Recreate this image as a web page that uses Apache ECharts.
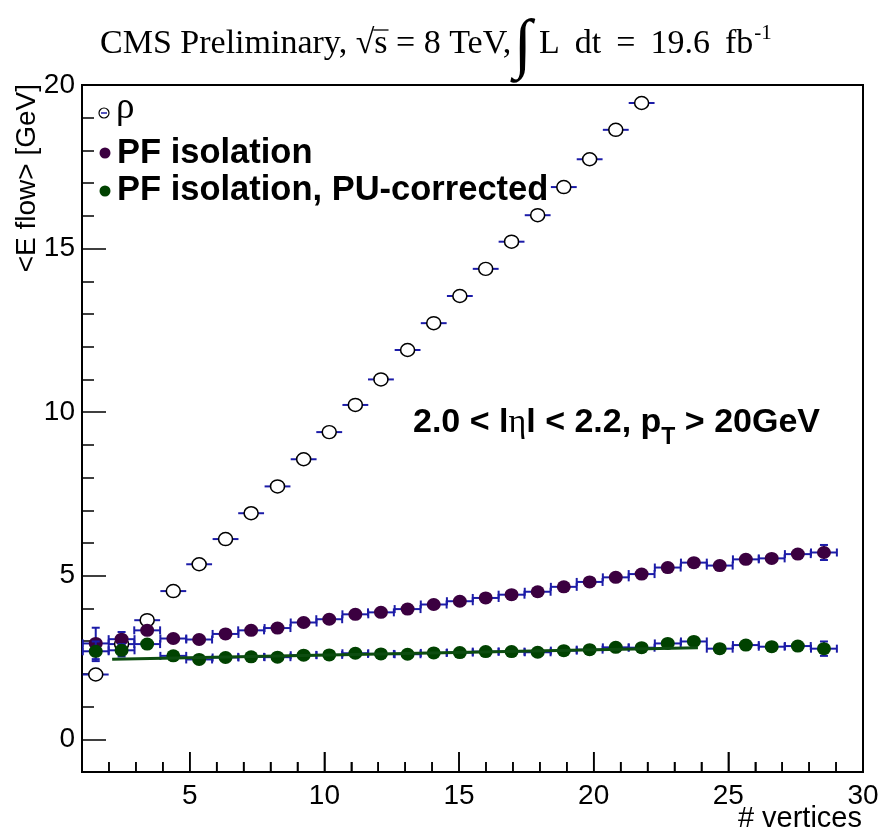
<!DOCTYPE html>
<html>
<head>
<meta charset="utf-8">
<script src="https://cdn.jsdelivr.net/npm/echarts@6/dist/echarts.min.js"></script>
<style>html,body{margin:0;padding:0;background:#fff}#c{width:882px;height:833px}</style>
</head>
<body>
<div id="c"></div>
<script>
// ---- data ----
const vertices = [1.51, 2.47, 3.42, 4.39, 5.35, 6.33, 7.28, 8.26, 9.23, 10.18, 11.15, 12.10, 13.09, 14.06, 15.03, 15.99, 16.95, 17.92, 18.89, 19.85, 20.82, 21.78, 22.75, 23.72, 24.68, 25.65, 26.61, 27.58, 28.55];
const rho = [1.98, 2.91, 3.64, 4.53, 5.35, 6.12, 6.91, 7.73, 8.56, 9.39, 10.22, 11.00, 11.90, 12.72, 13.55, 14.38, 15.21, 16.02, 16.88, 17.73, 18.63, 19.45];
const pfIso = [2.93, 3.06, 3.33, 3.08, 3.05, 3.22, 3.33, 3.40, 3.57, 3.67, 3.82, 3.88, 3.98, 4.12, 4.22, 4.32, 4.42, 4.51, 4.66, 4.81, 4.95, 5.05, 5.25, 5.40, 5.31, 5.50, 5.53, 5.66, 5.71];
const pfIsoErr = [0.48, 0.22, 0.10, 0.06, 0.05, 0.04, 0.04, 0.04, 0.04, 0.04, 0.04, 0.04, 0.04, 0.04, 0.04, 0.04, 0.04, 0.04, 0.04, 0.04, 0.05, 0.05, 0.05, 0.06, 0.06, 0.07, 0.08, 0.10, 0.23];
const pfIsoPU = [2.69, 2.72, 2.91, 2.55, 2.44, 2.50, 2.52, 2.51, 2.57, 2.58, 2.63, 2.61, 2.60, 2.64, 2.65, 2.68, 2.68, 2.66, 2.71, 2.74, 2.81, 2.80, 2.93, 2.99, 2.77, 2.88, 2.83, 2.85, 2.77];
const pfIsoPUErr = [0.30, 0.19, 0.10, 0.06, 0.05, 0.04, 0.04, 0.04, 0.04, 0.04, 0.04, 0.04, 0.04, 0.04, 0.04, 0.04, 0.04, 0.04, 0.04, 0.04, 0.05, 0.05, 0.05, 0.06, 0.06, 0.07, 0.08, 0.10, 0.22];
const binHalfWidth = 0.48;
const fitX = [2.12, 23.87];
const fitY = [2.45, 2.80];
const xMajorTicks = [5, 10, 15, 20, 25, 30];
const yMajorTicks = [0, 5, 10, 15, 20];
const X_MIN = 1, X_MAX = 30, Y_MIN = -1, Y_MAX = 20;

// ---- styling ----
const colPF = '#3b0040';
const colPU = '#004200';
const colErr = '#1c1ca8';
const colFit = '#0d4d10';
const SANS = '"Liberation Sans", Arial, sans-serif';
const SERIF = '"Liberation Serif", "Times New Roman", serif';

const mctx = document.createElement('canvas').getContext('2d');
function tw(text, font) { mctx.font = font; return mctx.measureText(text).width; }

function zip(xs, ys, es) { return ys.map((y, i) => es ? [xs[i], y, es[i]] : [xs[i], y, 0]); }

function errRenderer(caps) {
  return function (params, api) {
    const x = api.value(0), y = api.value(1), e = api.value(2);
    const l = api.coord([x - binHalfWidth, y]);
    const r = api.coord([x + binHalfWidth, y]);
    const st = { stroke: colErr, lineWidth: 2 };
    const ch = [{ type: 'line', shape: { x1: l[0], y1: l[1], x2: r[0], y2: r[1] }, style: st }];
    if (caps) {
      ch.push({ type: 'line', shape: { x1: l[0], y1: l[1] - 4, x2: l[0], y2: l[1] + 4 }, style: st });
      ch.push({ type: 'line', shape: { x1: r[0], y1: r[1] - 4, x2: r[0], y2: r[1] + 4 }, style: st });
    }
    if (e > 0) {
      const t = api.coord([x, y + e]), b = api.coord([x, y - e]);
      ch.push({ type: 'line', shape: { x1: t[0], y1: t[1], x2: b[0], y2: b[1] }, style: st });
      if (caps) {
        ch.push({ type: 'line', shape: { x1: t[0] - 4, y1: t[1], x2: t[0] + 4, y2: t[1] }, style: st });
        ch.push({ type: 'line', shape: { x1: b[0] - 4, y1: b[1], x2: b[0] + 4, y2: b[1] }, style: st });
      }
    }
    return { type: 'group', children: ch };
  };
}

// sequential text pieces
function pieces(x, y, list) {
  const out = [];
  let cx = x;
  list.forEach(p => {
    out.push({ type: 'text', x: cx, y: y + (p.dy || 0), z: 100,
      style: { text: p.t, font: p.font, fill: p.fill || '#000', align: 'left', verticalAlign: 'middle' } });
    cx += tw(p.t, p.font) + (p.gap || 0);
  });
  return { els: out, end: cx };
}

const graphics = [];
// Title
const fT = '34px ' + SERIF;
let t1 = pieces(100, 44, [{ t: 'CMS Preliminary, ', font: fT }, { t: '\u221A', font: fT }]);
graphics.push(...t1.els);
const sx0 = t1.end;
let t2 = pieces(sx0, 44, [{ t: 's', font: fT }]);
graphics.push(...t2.els);
graphics.push({ type: 'line', z: 100, shape: { x1: sx0 - 1, y1: 30, x2: t2.end + 1, y2: 30 }, style: { stroke: '#000', lineWidth: 1.3 } });
let t3 = pieces(t2.end, 44, [{ t: ' = 8 TeV,', font: fT }]);
graphics.push(...t3.els);
graphics.push({ type: 'text', x: 523, y: 48, z: 100, style: { text: '\u222B', font: 'bold 66px ' + SERIF, fill: '#000', align: 'center', verticalAlign: 'middle' } });
let t4 = pieces(539, 44, [
  { t: 'L', font: fT, gap: 15 },
  { t: 'dt', font: fT, gap: 15 },
  { t: '=', font: fT, gap: 15 },
  { t: '19.6', font: fT, gap: 15 },
  { t: 'fb', font: fT }
]);
graphics.push(...t4.els);
graphics.push({ type: 'text', x: t4.end + 1, y: 33, z: 100, style: { text: '-1', font: '21px ' + SERIF, fill: '#000', align: 'left', verticalAlign: 'middle' } });

// Legend
graphics.push({ type: 'circle', z: 100, shape: { cx: 104, cy: 113, r: 5 }, style: { fill: '#fff', stroke: '#000', lineWidth: 1.2 } });
graphics.push({ type: 'line', z: 101, shape: { x1: 101, y1: 113, x2: 107, y2: 113 }, style: { stroke: colErr, lineWidth: 1.5 } });
graphics.push({ type: 'text', x: 116, y: 108, z: 100, style: { text: '\u03C1', font: '37px ' + SERIF, fill: '#000', align: 'left', verticalAlign: 'middle' } });
graphics.push({ type: 'circle', z: 100, shape: { cx: 105, cy: 153, r: 5.5 }, style: { fill: colPF } });
graphics.push({ type: 'text', x: 117, y: 153, z: 100, style: { text: 'PF isolation', font: 'bold 34.5px ' + SANS, fill: '#000', align: 'left', verticalAlign: 'middle' } });
graphics.push({ type: 'circle', z: 100, shape: { cx: 105, cy: 191, r: 5.5 }, style: { fill: colPU } });
graphics.push({ type: 'text', x: 117, y: 190, z: 100, style: { text: 'PF isolation, PU-corrected', font: 'bold 34.5px ' + SANS, fill: '#000', align: 'left', verticalAlign: 'middle' } });

// Annotation
const fA = 'bold 34px ' + SANS;
let a1 = pieces(413, 423, [
  { t: '2.0 < l', font: fA },
  { t: '\u03B7', font: '34px ' + SERIF },
  { t: 'l < 2.2, p', font: fA }
]);
graphics.push(...a1.els);
let a2 = pieces(a1.end, 438, [{ t: 'T', font: 'bold 23px ' + SANS }]);
graphics.push(...a2.els);
let a3 = pieces(a2.end, 423, [{ t: ' > 20GeV', font: fA }]);
graphics.push(...a3.els);

// Axis titles
graphics.push({ type: 'text', x: 27, y: 84, rotation: Math.PI / 2, z: 100, style: { text: '<E flow> [GeV]', font: '28px ' + SANS, fill: '#000', align: 'right', verticalAlign: 'middle' } });
graphics.push({ type: 'text', x: 862, y: 819, z: 100, style: { text: '# vertices', font: '29px ' + SANS, fill: '#000', align: 'right', verticalAlign: 'middle' } });

const chart = echarts.init(document.getElementById('c'), null, { renderer: 'canvas' });
const tickStyle = { color: '#000', width: 1.5 };
const lineStyle = { color: '#000', width: 2 };
chart.setOption({
  animation: false,
  backgroundColor: '#fff',
  grid: { left: 82, right: 19, top: 85, bottom: 61, show: true, borderColor: '#000', borderWidth: 2, backgroundColor: 'transparent' },
  xAxis: [
    // minor x ticks; sits on the zero of the hidden helper y axis (which is the bottom edge)
    { type: 'value', min: X_MIN, max: X_MAX, interval: 1, axisLine: { show: true, onZero: true, onZeroAxisIndex: 2, lineStyle: lineStyle }, axisTick: { show: true, inside: true, length: 10, lineStyle: tickStyle }, axisLabel: { show: false }, splitLine: { show: false } },
    // major x ticks + labels
    { type: 'value', min: X_MIN, max: X_MAX, position: 'bottom', axisLine: { show: true, onZero: true, onZeroAxisIndex: 2, lineStyle: lineStyle }, axisTick: { show: true, inside: true, length: 20, customValues: xMajorTicks, lineStyle: tickStyle }, axisLabel: { customValues: xMajorTicks, fontSize: 28, fontFamily: SANS, color: '#000', margin: 10 }, splitLine: { show: false } }
  ],
  yAxis: [
    { type: 'value', min: Y_MIN, max: Y_MAX, interval: 1, position: 'left', axisLine: { show: true, onZero: false, lineStyle: lineStyle }, axisTick: { show: true, inside: true, length: 12, lineStyle: tickStyle }, axisLabel: { show: false }, splitLine: { show: false } },
    { type: 'value', min: Y_MIN, max: Y_MAX, position: 'left', axisLine: { show: true, onZero: false, lineStyle: lineStyle }, axisTick: { show: true, inside: true, length: 24, customValues: yMajorTicks, lineStyle: tickStyle }, axisLabel: { customValues: yMajorTicks, fontSize: 28, fontFamily: SANS, color: '#000', margin: 7 }, splitLine: { show: false } },
    // helper axis: same span shifted so its zero is the bottom edge
    { type: 'value', min: 0, max: Y_MAX - Y_MIN, position: 'left', show: false, axisLine: { show: false, onZero: false }, axisTick: { show: false }, axisLabel: { show: false }, splitLine: { show: false } }
  ],
  graphic: graphics,
  series: [
    { name: 'rho-err', type: 'custom', renderItem: errRenderer(false), data: zip(vertices, rho, null), z: 2, silent: true },
    { name: '\u03C1', type: 'scatter', data: zip(vertices, rho, null).map(d => [d[0], d[1]]), symbol: 'circle', symbolSize: [14, 13], itemStyle: { color: '#fff', borderColor: '#000', borderWidth: 1.5, opacity: 1 }, z: 3 },
    { name: 'pf-err', type: 'custom', renderItem: errRenderer(true), data: zip(vertices, pfIso, pfIsoErr), z: 4, silent: true },
    { name: 'PF isolation', type: 'scatter', data: zip(vertices, pfIso, null).map(d => [d[0], d[1]]), symbol: 'circle', symbolSize: [14, 13], itemStyle: { color: colPF, opacity: 1 }, z: 5 },
    { name: 'pu-err', type: 'custom', renderItem: errRenderer(true), data: zip(vertices, pfIsoPU, pfIsoPUErr), z: 6, silent: true },
    { name: 'PF isolation, PU-corrected', type: 'scatter', data: zip(vertices, pfIsoPU, null).map(d => [d[0], d[1]]), symbol: 'circle', symbolSize: [14, 13], itemStyle: { color: colPU, opacity: 1 }, z: 7 },
    { name: 'fit', type: 'line', data: fitX.map((x, i) => [x, fitY[i]]), symbol: 'none', lineStyle: { color: colFit, width: 3 }, z: 8, silent: true }
  ]
});

// additional x ticks as thin filled bars, positioned through the chart's own scale
const tickEls = [];
const yBottom = chart.convertToPixel({ yAxisIndex: 0 }, Y_MIN);
for (let v = X_MIN; v <= X_MAX; v++) {
  const px = chart.convertToPixel({ xAxisIndex: 0 }, v);
  const len = xMajorTicks.indexOf(v) >= 0 ? 20 : 10;
  tickEls.push({ type: 'rect', z: 150, shape: { x: px - 0.75, y: yBottom - len, width: 1.5, height: len }, style: { fill: '#000' } });
}
chart.setOption({ graphic: graphics.concat(tickEls) });
</script>
</body>
</html>
